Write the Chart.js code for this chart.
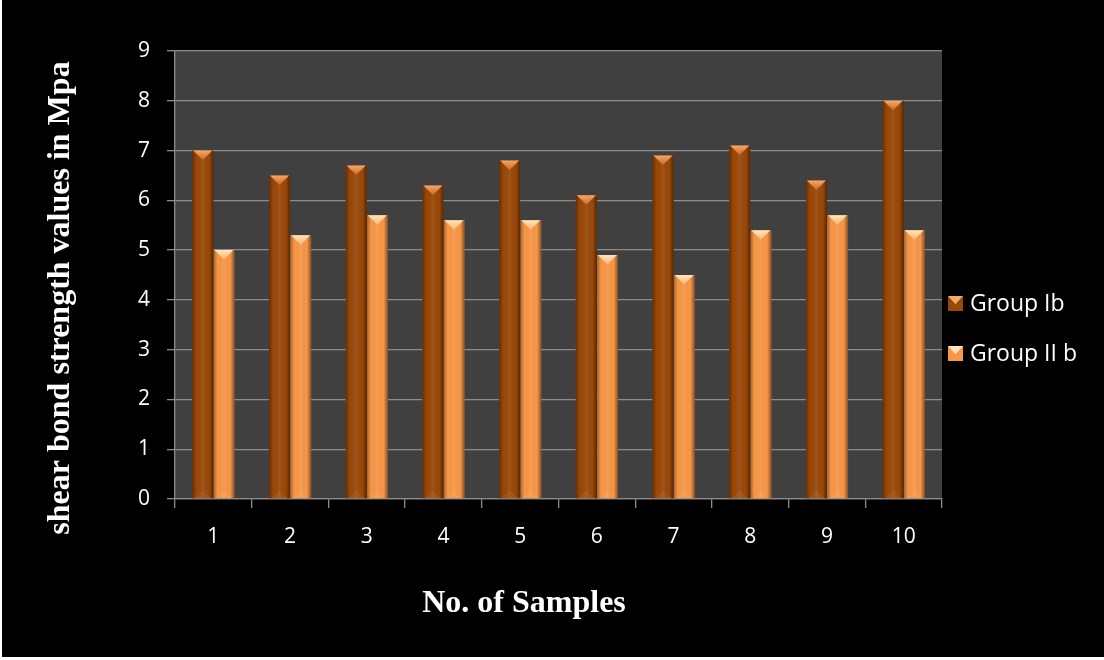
<!DOCTYPE html>
<html>
<head>
    <meta charset="UTF-8">
    <title>Shear bond strength</title>
    <script src="https://cdn.jsdelivr.net/npm/chart.js@4.4.1/dist/chart.umd.min.js"></script>
    <style>
        html, body { margin: 0; padding: 0; background: #ffffff; }
        #wrap { position: absolute; left: 2px; top: 0; width: 1102px; height: 657px; background: #000000; }
    </style>
</head>
<body>
    <div id="wrap"><canvas id="barChart"></canvas></div>

    <script>
        // chart data
        const samples = ["1", "2", "3", "4", "5", "6", "7", "8", "9", "10"];
        const groupIb = [7.0, 6.5, 6.7, 6.3, 6.8, 6.1, 6.9, 7.1, 6.4, 8.0];
        const groupIIb = [5.0, 5.3, 5.7, 5.6, 5.6, 4.9, 4.5, 5.4, 5.7, 5.4];
        const seriesNames = ["Group Ib", "Group II b"];
        const yTitle = "shear bond strength values in Mpa";
        const xTitle = "No. of Samples";

        const barColors = ["#9a4808", "#f79646"];
        const capColors = [["#f4a86a", "#cc6820"], ["#ffe6bc", "#fbb474"]];
        const tickFont = { family: "'Open Sans', sans-serif", size: 21 };

        // dark plot area
        const plotBg = {
            id: "plotBg",
            beforeDraw(chart) {
                const a = chart.chartArea, ctx = chart.ctx;
                ctx.save();
                ctx.fillStyle = "#404040";
                ctx.fillRect(a.left, a.top, a.right - a.left, a.bottom - a.top);
                ctx.restore();
            }
        };

        // bevel look on each bar, using the bar elements from the library
        const bevel = {
            id: "bevel",
            afterDatasetsDraw(chart) {
                const ctx = chart.ctx;
                ctx.save();
                chart.data.datasets.forEach((ds, di) => {
                    chart.getDatasetMeta(di).data.forEach(bar => {
                        const p = bar.getProps(["x", "y", "base", "width"], true);
                        const l = p.x - p.width / 2, r = p.x + p.width / 2;
                        const g = ctx.createLinearGradient(l, 0, r, 0);
                        g.addColorStop(0, "rgba(0,0,0,0.35)");
                        g.addColorStop(0.2, "rgba(0,0,0,0)");
                        g.addColorStop(0.5, "rgba(255,255,255,0.07)");
                        g.addColorStop(0.8, "rgba(0,0,0,0)");
                        g.addColorStop(1, "rgba(0,0,0,0.45)");
                        ctx.fillStyle = g;
                        ctx.fillRect(l, p.y, p.width, p.base - p.y);
                        const d = Math.min(p.width * 0.45, p.base - p.y);
                        const cg = ctx.createLinearGradient(0, p.y, 0, p.y + d);
                        cg.addColorStop(0, capColors[di][0]);
                        cg.addColorStop(1, capColors[di][1]);
                        ctx.beginPath();
                        ctx.moveTo(l + 1, p.y);
                        ctx.lineTo(r - 1, p.y);
                        ctx.lineTo(p.x, p.y + d);
                        ctx.closePath();
                        ctx.fillStyle = cg;
                        ctx.fill();
                        // faint base facet
                        ctx.beginPath();
                        ctx.moveTo(l + 2, p.base);
                        ctx.lineTo(r - 2, p.base);
                        ctx.lineTo(p.x, p.base - d * 0.8);
                        ctx.closePath();
                        ctx.fillStyle = "rgba(255,255,255,0.06)";
                        ctx.fill();
                    });
                });
                ctx.restore();
            }
        };

        // axis titles and legend placed like the original
        const labels = {
            id: "labels",
            afterDraw(chart) {
                const ctx = chart.ctx;
                ctx.save();
                ctx.fillStyle = "#ffffff";
                ctx.font = "bold 32px 'Liberation Serif', serif";
                ctx.textAlign = "center";
                ctx.textBaseline = "middle";
                ctx.fillText(xTitle, 522, 604);
                ctx.translate(59, 298);
                ctx.rotate(-Math.PI / 2);
                ctx.fillText(yTitle, 0, 0);
                ctx.restore();

                ctx.save();
                ctx.font = "23px 'Open Sans', sans-serif";
                ctx.textBaseline = "middle";
                ctx.textAlign = "left";
                seriesNames.forEach((name, i) => {
                    const bx = 946, by = 296 + i * 50, s = 15;
                    ctx.fillStyle = barColors[i];
                    ctx.fillRect(bx, by, s, s);
                    ctx.beginPath();
                    ctx.moveTo(bx, by);
                    ctx.lineTo(bx + s, by);
                    ctx.lineTo(bx + s / 2, by + s * 0.55);
                    ctx.closePath();
                    ctx.fillStyle = capColors[i][0];
                    ctx.fill();
                    ctx.fillStyle = "#ffffff";
                    ctx.fillText(name, 968, by + s / 2 + 1);
                });
                ctx.restore();
            }
        };

        new Chart(document.getElementById("barChart"), {
            type: "bar",
            data: {
                labels: samples,
                datasets: [
                    { label: seriesNames[0], data: groupIb, backgroundColor: barColors[0] },
                    { label: seriesNames[1], data: groupIIb, backgroundColor: barColors[1] }
                ]
            },
            options: {
                responsive: true,
                maintainAspectRatio: false,
                animation: false,
                datasets: { bar: { barPercentage: 1, categoryPercentage: 0.55 } },
                layout: { padding: { top: 51, right: 162, left: 0, bottom: 0 } },
                plugins: { legend: { display: false }, tooltip: { enabled: false } },
                scales: {
                    x: {
                        offset: true,
                        grid: { offset: true, drawOnChartArea: false, drawTicks: true, tickLength: 9, color: "#8c8c8c", lineWidth: 1.3 },
                        border: { display: true, color: "#8c8c8c", width: 1.3 },
                        ticks: { color: "#ffffff", font: tickFont, padding: 16, maxRotation: 0 },
                        afterFit(scale) { scale.height = 158; }
                    },
                    y: {
                        min: 0,
                        max: 9,
                        ticks: { stepSize: 1, color: "#ffffff", font: tickFont, padding: 17 },
                        grid: { color: "#8c8c8c", lineWidth: 1.3, tickLength: 8 },
                        border: { display: true, color: "#8c8c8c", width: 1.3 },
                        afterFit(scale) { scale.width = 173; }
                    }
                }
            },
            plugins: [plotBg, bevel, labels]
        });
    </script>
</body>
</html>
